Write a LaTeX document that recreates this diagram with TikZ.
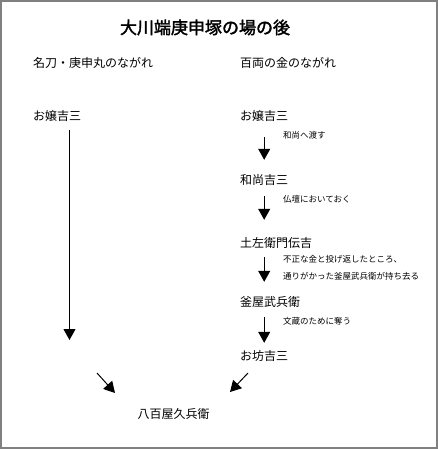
\documentclass[tikz,border=0pt]{standalone}
\usepackage{fontspec}
\setmainfont{Noto Sans CJK JP}[AutoFakeBold=2]
\usetikzlibrary{arrows.meta, positioning}

\begin{document}
\begin{tikzpicture}[x=1pt, y=-1pt,
        person/.style={anchor=west, inner sep=0pt, font=\fontsize{12}{14}\selectfont, text height=10pt, text depth=1pt},
        deed/.style={anchor=west, inner sep=0pt, font=\fontsize{8.5}{10}\selectfont, text height=7pt, text depth=1pt},
        flowarrow/.style={-{Triangle[width=12pt, length=11pt]}, line width=1pt}]
        \useasboundingbox (0,0) rectangle (438,449);
        % Frame
        \draw[gray, line width=2pt] (1,1) rectangle (437,448);

        % Title and headings
        \node[inner sep=0pt, font=\bfseries\fontsize{17}{20}\selectfont] (title) at (205,27.5) {大川端庚申塚の場の後};
        \node[person] (blade) at (33,63) {名刀・庚申丸のながれ};
        \node[person] (gold) at (240,63) {百両の金のながれ};

        % People
        \node[person] (ojouL) at (33,116) {お嬢吉三};
        \node[person] (ojouR) at (240,116) {お嬢吉三};
        \node[person] (osho) at (240,180) {和尚吉三};
        \node[person] (denkichi) at (240,242.5) {土左衛門伝吉};
        \node[person] (kamaya) at (240,302) {釜屋武兵衛};
        \node[person] (obo) at (240,356) {お坊吉三};
        \node[inner sep=0pt, font=\fontsize{12}{14}\selectfont, text height=10pt, text depth=1pt] (yaoya) at (173.5,414) {八百屋久兵衛};

        % What happens to the gold
        \node[deed] (give) at (283,136) {和尚へ渡す};
        \node[deed] (altar) at (283,199.5) {仏壇においておく};
        \node[deed, align=left, font=\fontsize{8.5}{17}\selectfont, text height=, text depth=] (throw) at (283,267.5) {不正な金と投げ返したところ、\\通りがかった釜屋武兵衛が持ち去る};
        \node[deed] (steal) at (283,321) {文蔵のために奪う};

        % Arrows
        \draw[flowarrow, shorten <=15.5pt, shorten >=14.5pt] (ojouR.south) -- (osho.north);
        \draw[flowarrow, shorten <=10.5pt, shorten >=17pt] (osho.south) -- (denkichi.north -| osho);
        \draw[flowarrow, shorten <=9pt, shorten >=14.5pt] (denkichi.south -| osho) -- (kamaya.north -| osho);
        \draw[flowarrow, shorten <=9.5pt, shorten >=7.5pt] (kamaya.south -| obo) -- (obo.north);

        \coordinate (bladetop) at (69.5,130);
        \coordinate (bladeend) at (69.5,340);
        \draw[flowarrow] (bladetop) -- (bladeend);

        \coordinate (leftfrom) at (97,373);
        \coordinate (leftto) at (115,393);
        \coordinate (rightfrom) at (248,373);
        \coordinate (rightto) at (230,392);
        \draw[flowarrow] (leftfrom) -- (leftto);
        \draw[flowarrow] (rightfrom) -- (rightto);
    \end{tikzpicture}
\end{document}
